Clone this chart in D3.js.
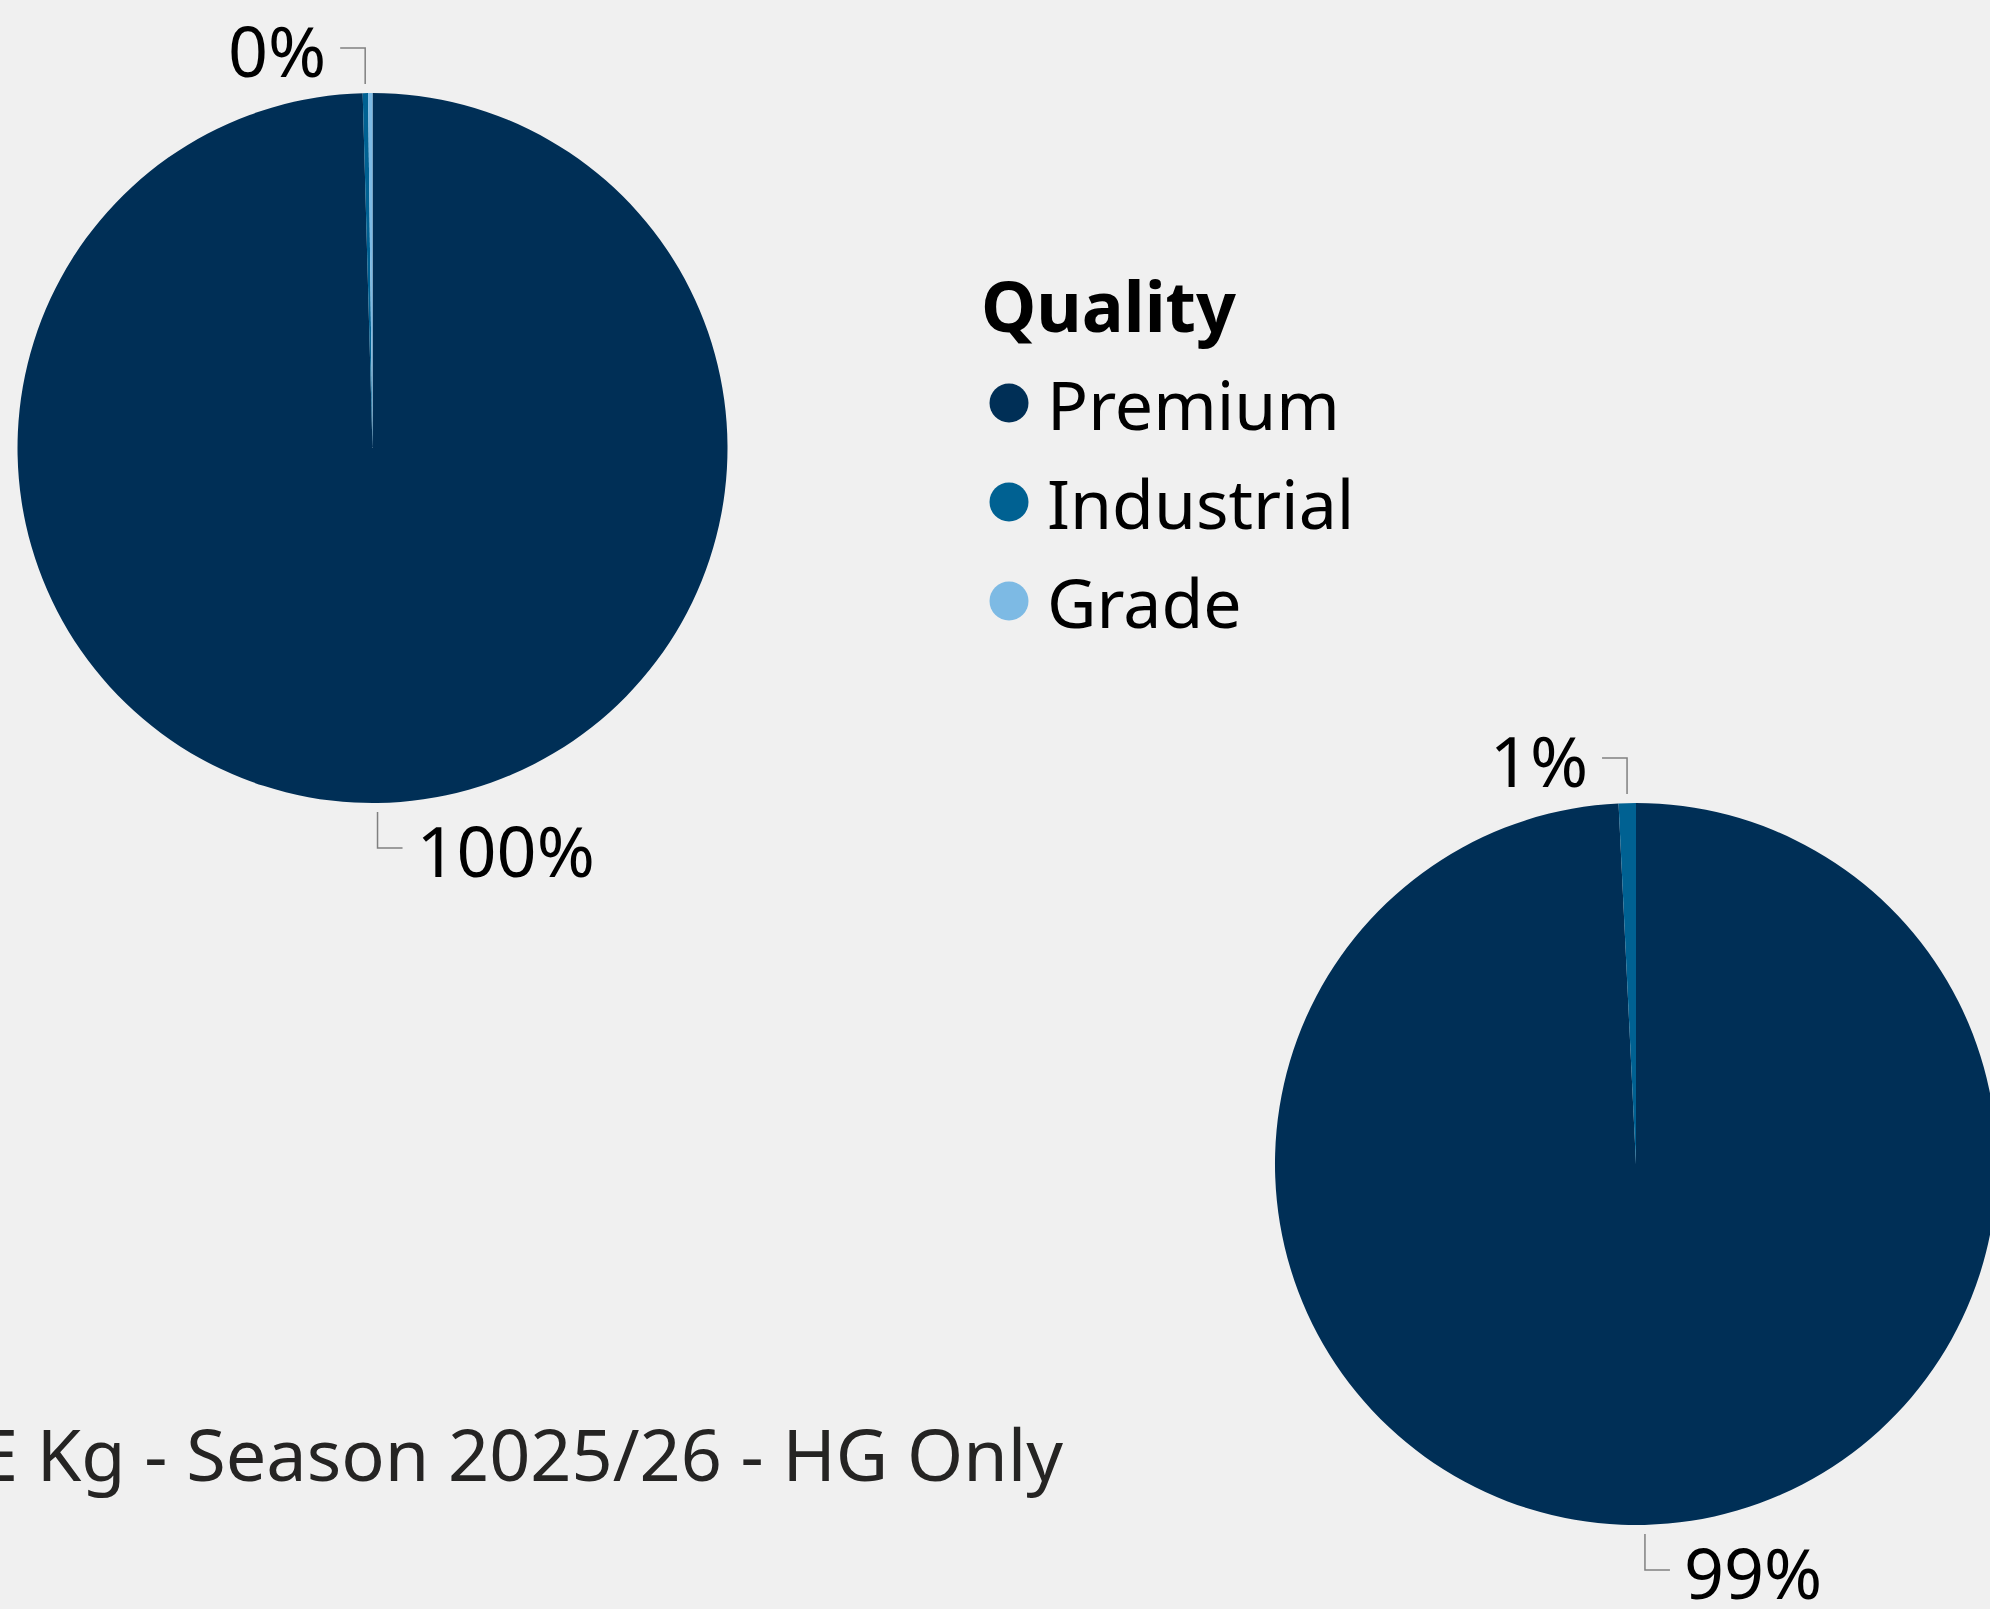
<!DOCTYPE html>
<html>
<head>
<meta charset="utf-8">
<script src="https://cdn.jsdelivr.net/npm/d3@7/dist/d3.min.js"></script>
<style>
  html, body { margin: 0; padding: 0; background: #f0f0f0; overflow: hidden; }
  svg { display: block; }
  text { font-family: "Segoe UI", "Noto Sans", "Open Sans", sans-serif; }
</style>
</head>
<body>
<svg id="chart" width="1990" height="1609"></svg>
<script>
// ---- Data ----
const categories = ["Premium", "Industrial", "Grade"];
const colors = ["#002F56", "#006192", "#7DBAE4"];
const leftPieValues = [99.56, 0.24, 0.20];   // share of FE Kg, %
const rightPieValues = [99.23, 0.77, 0.00];  // share of FE Kg, %
const legendTitle = "Quality";
const titleText = "E Kg - Season 2025/26 - HG Only";

// ---- Layout ----
const W = 1990, H = 1609;
const svg = d3.select("#chart");
svg.append("rect").attr("width", W).attr("height", H).attr("fill", "#f0f0f0");

const color = d3.scaleOrdinal().domain(categories).range(colors);
const pct = d3.format(".0%");

const pies = [
  { values: leftPieValues, cx: 372.5, cy: 448, r: 355 },
  { values: rightPieValues, cx: 1636, cy: 1164, r: 361 }
];

const pie = d3.pie().sort(null).value(d => d.value).startAngle(0).endAngle(2 * Math.PI);

pies.forEach(p => {
  const data = categories.map((c, i) => ({ cat: c, value: p.values[i] }));
  const total = d3.sum(data, d => d.value);
  const arcs = pie(data);
  const arc = d3.arc().innerRadius(0).outerRadius(p.r);
  const g = svg.append("g").attr("transform", `translate(${p.cx},${p.cy})`);

  g.selectAll("path.slice")
    .data(arcs.filter(a => a.value > 0))
    .join("path")
    .attr("class", "slice")
    .attr("d", arc)
    .attr("fill", d => color(d.data.cat));

  // Labels: skip ones that collide with an already shown label
  const shown = [];
  arcs.forEach(a => {
    if (a.value <= 0) return;
    const mid = (a.startAngle + a.endAngle) / 2;
    if (shown.some(m => Math.abs(m - mid) < 0.15)) return;
    shown.push(mid);
    const sx = Math.sin(mid), sy = -Math.cos(mid);
    const x0 = sx * (p.r + 9);
    const y0 = sy * (p.r + 9);
    const y1 = sy * (p.r + 45);
    const dirX = (sy > 0) ? 1 : -1; // bottom labels go right, top labels go left
    const x2 = x0 + dirX * 25;
    g.append("path")
      .attr("d", `M${x0},${y0}L${x0},${y1}L${x2},${y1}`)
      .attr("fill", "none")
      .attr("stroke", "#808080")
      .attr("stroke-width", 1.5);
    g.append("text")
      .attr("x", x2 + dirX * 14)
      .attr("y", y1 + 4)
      .attr("dy", "0.36em")
      .attr("text-anchor", dirX > 0 ? "start" : "end")
      .attr("font-size", 70)
      .attr("fill", "#000")
      .text(pct(a.value / total));
  });
});

// ---- Legend ----
const legend = svg.append("g").attr("transform", "translate(981,0)");
legend.append("text")
  .attr("x", 0).attr("y", 332)
  .attr("font-size", 70)
  .attr("font-weight", "bold")
  .attr("fill", "#000")
  .text(legendTitle);

const ly = d3.scalePoint().domain(categories).range([430, 628]);
const items = legend.selectAll("g.item").data(categories).join("g").attr("class", "item");
items.append("circle")
  .attr("cx", 28).attr("cy", d => ly(d) - 27)
  .attr("r", 19.5)
  .attr("fill", d => color(d));
items.append("text")
  .attr("x", 66).attr("y", d => ly(d))
  .attr("font-size", 68)
  .attr("fill", "#000")
  .text(d => d);

// ---- Title (partially off-canvas on the left, as in the reference) ----
svg.append("text")
  .attr("x", 1063).attr("y", 1481)
  .attr("text-anchor", "end")
  .attr("font-size", 72)
  .attr("fill", "#252423")
  .text(titleText);
</script>
</body>
</html>
